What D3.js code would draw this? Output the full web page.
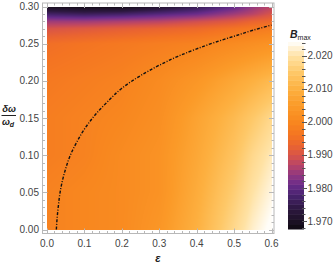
<!DOCTYPE html>
<html><head><meta charset="utf-8">
<script src="https://cdn.jsdelivr.net/npm/d3@7"></script>
<style>
body{margin:0;background:#fff;}
svg{display:block;font-family:"Liberation Sans",Arial,sans-serif;}
</style></head><body>
<svg id="chart" width="336" height="268"></svg>
<script>
// --- data ---
const epsGrid = [0, 0.1, 0.2, 0.3, 0.4, 0.5, 0.55, 0.6];
const omegaGrid = [0, 0.05, 0.1, 0.15, 0.2, 0.25, 0.27, 0.28, 0.29, 0.3];
// B_max, one row per omega value, one column per eps value
const bRows = [
  [1.999, 2.000, 2.001, 2.004, 2.010, 2.018, 2.022, 2.025],
  [1.999, 2.000, 2.001, 2.003, 2.009, 2.016, 2.020, 2.023],
  [1.998, 1.999, 2.001, 2.003, 2.008, 2.014, 2.018, 2.021],
  [1.998, 1.999, 2.000, 2.002, 2.007, 2.012, 2.015, 2.018],
  [1.997, 1.998, 1.999, 2.001, 2.004, 2.008, 2.010, 2.012],
  [1.995, 1.996, 1.997, 1.998, 1.999, 2.001, 2.002, 2.003],
  [1.990, 1.991, 1.992, 1.993, 1.994, 1.996, 1.997, 1.998],
  [1.985, 1.985, 1.986, 1.987, 1.989, 1.991, 1.993, 1.994],
  [1.977, 1.976, 1.977, 1.979, 1.981, 1.985, 1.987, 1.990],
  [1.969, 1.968, 1.968, 1.971, 1.975, 1.980, 1.984, 1.987]
];
// dot-dashed boundary curve
const curveEps = [0.025, 0.027, 0.03, 0.035, 0.04, 0.05, 0.06, 0.08, 0.1, 0.13, 0.16, 0.2, 0.25, 0.3, 0.35, 0.4, 0.45, 0.5, 0.55, 0.6];
const curveOmega = [0, 0.015, 0.03, 0.05, 0.063, 0.082, 0.097, 0.118, 0.135, 0.155, 0.171, 0.19, 0.207, 0.221, 0.233, 0.243, 0.252, 0.26, 0.268, 0.275];

const xTicks = [0, 0.1, 0.2, 0.3, 0.4, 0.5, 0.6];
const yTicks = [0, 0.05, 0.1, 0.15, 0.2, 0.25, 0.3];
const barTicks = [1.97, 1.98, 1.99, 2.00, 2.01, 2.02];

// colour stops (SunsetColors-like)
const colorVals = [1.9676, 1.970, 1.974, 1.978, 1.981, 1.984, 1.987, 1.990, 1.993, 1.996, 2.000, 2.005, 2.010, 2.015, 2.020, 2.0242];
const colorHex = ["#0d0810", "#1c1024", "#2e1842", "#4a2470", "#6a2c8a", "#903880", "#b84468", "#d85448",
                  "#ea6430", "#f47422", "#f8871f", "#fb9a28", "#fdb040", "#fec868", "#ffe2a4", "#fffdf8"];

const svg = d3.select("#chart");
const textCol = "#444";
const frameCol = "#b8b8b8";

const x = d3.scaleLinear().domain([0, 0.6]).range([47, 271.5]);
const y = d3.scaleLinear().domain([0, 0.3]).range([229.5, 6.5]);
const color = d3.scaleLinear().domain(colorVals).range(colorHex).clamp(true);

// --- heatmap, painted on a canvas then placed as an image ---
function lookup(grid, v) {
  let i = d3.bisectRight(grid, v) - 1;
  i = Math.max(0, Math.min(grid.length - 2, i));
  const t = Math.max(0, Math.min(1, (v - grid[i]) / (grid[i + 1] - grid[i])));
  return [i, t];
}
function bAt(e, w) {
  const [i, tx] = lookup(epsGrid, e);
  const [j, ty] = lookup(omegaGrid, w);
  const a = bRows[j][i] * (1 - tx) + bRows[j][i + 1] * tx;
  const b = bRows[j + 1][i] * (1 - tx) + bRows[j + 1][i + 1] * tx;
  return a * (1 - ty) + b * ty;
}
const x0 = Math.round(x(0)), x1 = Math.round(x(0.6));
const y0 = Math.round(y(0.3)), y1 = Math.round(y(0));
const cw = x1 - x0, ch = y1 - y0;
const canvas = document.createElement("canvas");
canvas.width = cw; canvas.height = ch;
const ctx = canvas.getContext("2d");
const img = ctx.createImageData(cw, ch);
for (let py = 0; py < ch; py++) {
  const w = y.invert(y0 + py + 0.5);
  for (let px = 0; px < cw; px++) {
    const e = x.invert(x0 + px + 0.5);
    const c = d3.rgb(color(bAt(e, w)));
    const k = (py * cw + px) * 4;
    img.data[k] = c.r; img.data[k + 1] = c.g; img.data[k + 2] = c.b; img.data[k + 3] = 255;
  }
}
ctx.putImageData(img, 0, 0);
svg.append("image")
  .attr("x", x0).attr("y", y0).attr("width", cw).attr("height", ch)
  .attr("preserveAspectRatio", "none")
  .attr("href", canvas.toDataURL());

// --- boundary curve ---
const line = d3.line()
  .x((d, i) => x(curveEps[i]))
  .y((d, i) => y(curveOmega[i]))
  .curve(d3.curveMonotoneY);
svg.append("path")
  .attr("d", line(curveEps))
  .attr("fill", "none")
  .attr("stroke", "#111")
  .attr("stroke-width", 1.4)
  .attr("stroke-dasharray", "3,1.6,1,1.6");

// --- frame and ticks ---
const fl = 42.5, fr = 274, ft = 3, fb = 233.5;
svg.append("rect")
  .attr("x", fl).attr("y", ft).attr("width", fr - fl).attr("height", fb - ft)
  .attr("fill", "none").attr("stroke", frameCol).attr("stroke-width", 1);

const xMinor = d3.range(0, 0.6001, 0.02);
const yMinor = d3.range(0, 0.3001, 0.01);
const tickG = svg.append("g").attr("stroke", frameCol).attr("stroke-width", 1);
xMinor.forEach(v => {
  const major = xTicks.some(t => Math.abs(t - v) < 1e-6);
  const len = major ? 5 : 2.5;
  const px = Math.round(x(v)) + 0.5;
  tickG.append("line").attr("x1", px).attr("x2", px).attr("y1", fb).attr("y2", fb - len);
  tickG.append("line").attr("x1", px).attr("x2", px).attr("y1", ft).attr("y2", ft + len);
});
yMinor.forEach(v => {
  const major = yTicks.some(t => Math.abs(t - v) < 1e-6);
  const len = major ? 5 : 2.5;
  const py = Math.round(y(v)) + 0.5;
  tickG.append("line").attr("x1", fl).attr("x2", fl + len).attr("y1", py).attr("y2", py);
  tickG.append("line").attr("x1", fr).attr("x2", fr - len).attr("y1", py).attr("y2", py);
});

svg.append("g").selectAll("text").data(xTicks).join("text")
  .attr("x", d => x(d)).attr("y", 247)
  .attr("text-anchor", "middle").attr("font-size", 10).attr("fill", textCol)
  .text(d => d.toFixed(1));
svg.append("g").selectAll("text").data(yTicks).join("text")
  .attr("x", 39).attr("y", d => y(d) + 3.5)
  .attr("text-anchor", "end").attr("font-size", 10).attr("fill", textCol)
  .text(d => d.toFixed(2));

// axis labels
svg.append("text")
  .attr("x", 158).attr("y", 262)
  .attr("text-anchor", "middle").attr("font-size", 11)
  .attr("font-weight", "bold").attr("font-style", "italic").attr("fill", "#222")
  .text("ε");
const yl = svg.append("g").attr("fill", "#222").attr("font-weight", "bold").attr("font-style", "italic");
yl.append("text").attr("x", 9).attr("y", 112).attr("text-anchor", "middle").attr("font-size", 9.5).text("δω");
yl.append("line").attr("x1", 1.5).attr("x2", 16).attr("y1", 115.5).attr("y2", 115.5)
  .attr("stroke", "#222").attr("stroke-width", 1);
const wd = yl.append("text").attr("x", 8).attr("y", 125).attr("text-anchor", "middle").attr("font-size", 9.5);
wd.append("tspan").text("ω");
wd.append("tspan").attr("font-size", 7).attr("dy", 1.5).text("d");

// --- colour bar ---
const bar = d3.scaleLinear().domain([1.9676, 2.0242]).range([229, 42]);
const bx = 288, bw = 16;
const bandStep = 0.0015;
const bands = d3.range(1.9676, 2.0242, bandStep);
svg.append("g").selectAll("rect").data(bands).join("rect")
  .attr("x", bx).attr("width", bw)
  .attr("y", d => bar(Math.min(d + bandStep, 2.0242)))
  .attr("height", d => bar(d) - bar(Math.min(d + bandStep, 2.0242)) + 0.5)
  .attr("fill", d => color(d + bandStep / 2));

const barMinor = d3.range(1.968, 2.0241, 0.002);
const barTickG = svg.append("g").attr("stroke", "#555").attr("stroke-width", 1);
barMinor.forEach(v => {
  const major = barTicks.some(t => Math.abs(t - v) < 1e-6);
  const py = Math.round(bar(v)) + 0.5;
  barTickG.append("line").attr("x1", bx + bw - 2).attr("x2", bx + bw + (major ? 3 : 1.5))
    .attr("y1", py).attr("y2", py);
});
svg.append("g").selectAll("text").data(barTicks).join("text")
  .attr("x", 307.5).attr("y", d => bar(d) + 3.5)
  .attr("font-size", 10).attr("fill", textCol)
  .text(d => d.toFixed(3));

const bl = svg.append("text").attr("x", 290).attr("y", 38).attr("fill", "#222")
  .attr("font-weight", "bold").attr("font-style", "italic").attr("font-size", 10.5);
bl.append("tspan").text("B");
bl.append("tspan").attr("font-size", 7).attr("font-style", "normal").attr("font-weight", "normal").attr("dy", 2).text("max");
</script>
</body></html>
